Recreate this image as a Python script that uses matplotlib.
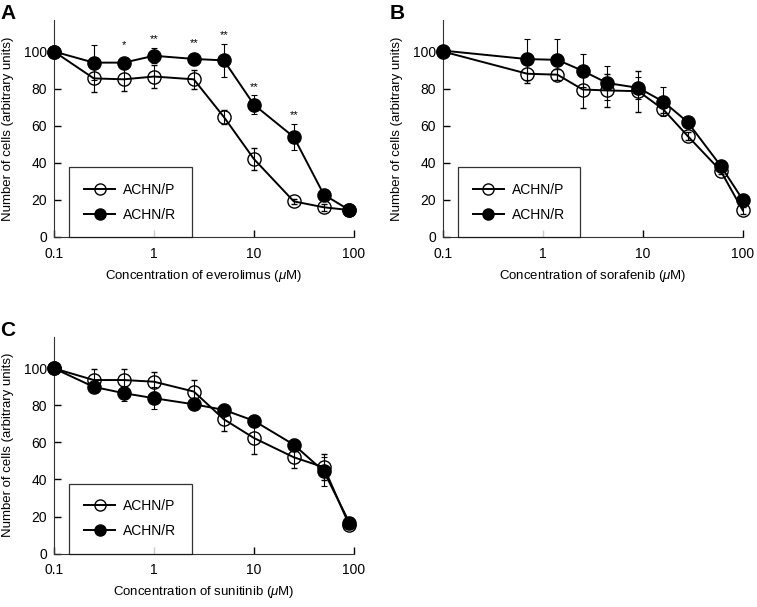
import matplotlib
matplotlib.use("Agg")
import matplotlib.pyplot as plt
import matplotlib.ticker as ticker
from matplotlib.lines import Line2D

plt.rcParams['font.family'] = ['Liberation Sans', 'DejaVu Sans']
plt.rcParams['mathtext.fontset'] = 'custom'
plt.rcParams['mathtext.it'] = 'Liberation Sans:italic'

# concentrations (uM)
conc_A = [0.1, 0.25, 0.5, 1, 2.5, 5, 10, 25, 50, 90]
conc_B = [0.1, 0.7, 1.4, 2.5, 4.4, 9, 16, 28, 60, 100]
conc_C = [0.1, 0.25, 0.5, 1, 2.5, 5, 10, 25, 50, 90]

# A - everolimus
p_A = [100, 85.5, 85, 86.5, 85, 64.7, 42, 19.2, 16, 14.5]
p_A_err = [0, 7.6, 6.5, 6, 5, 4, 6, 1.5, 2, 1]
r_A = [100, 94, 94, 97.7, 96, 95.2, 71.3, 53.9, 22.8, 14.5]
r_A_err = [0, 9.6, 2, 4, 2, 9, 5, 7, 2, 1]
star_x = [0.5, 1, 2.5, 5, 10, 25]
star_txt = ['*', '**', '**', '**', '**', '**']
star_y = [101, 104, 102, 106, 78, 63]

# B - sorafenib
p_B = [100, 88, 87.5, 79.5, 79, 78.6, 68.8, 54.5, 35.7, 14.3]
p_B_err = [0, 5, 3, 10, 9, 11, 2, 2, 2, 2]
r_B = [100.5, 95.9, 95.5, 89.6, 83, 80.4, 73, 62, 38.4, 20]
r_B_err = [0, 11, 11, 9, 9, 6, 8, 2, 2, 2]

# C - sunitinib
p_C = [100, 93.7, 93.7, 92.8, 87.5, 72.5, 62.4, 52, 46.6, 15.2]
p_C_err = [0, 6, 6, 5.4, 6.4, 6.5, 8.6, 6, 7, 1]
r_C = [100, 90, 86.6, 83.9, 80.6, 77.6, 71.7, 58.8, 44.4, 16.7]
r_C_err = [0, 2, 4, 6, 2, 2, 2, 3, 8, 1]

drugs = ['everolimus', 'sorafenib', 'sunitinib']

fig = plt.figure(figsize=(7.57, 6.07), dpi=100)

def panel(rect, conc, p, pe, r, re, drug, letter):
    ax = fig.add_axes(rect)
    ax.errorbar(conc, p, yerr=pe, color='black', lw=1.4, marker='o', ms=9.5,
                mfc='none', mec='black', mew=1.0, elinewidth=0.8, capsize=2.5,
                capthick=0.8, clip_on=False, zorder=3)
    ax.errorbar(conc, r, yerr=re, color='black', lw=1.4, marker='o', ms=9.5,
                mfc='black', mec='black', elinewidth=0.8, capsize=2.5,
                capthick=0.8, clip_on=False, zorder=4)
    ax.set_xscale('log')
    ax.set_xlim(0.1, 100)
    ax.set_ylim(0, 117)
    ax.set_yticks([0, 20, 40, 60, 80, 100])
    ax.xaxis.set_major_formatter(ticker.FuncFormatter(lambda v, pos: '%g' % v))
    ax.xaxis.set_minor_locator(ticker.NullLocator())
    ax.tick_params(direction='in', length=5, width=1, labelsize=10)
    ax.tick_params(axis='x', pad=7)
    ax.tick_params(axis='y', pad=5)
    ax.spines['top'].set_visible(False)
    ax.spines['right'].set_visible(False)
    ax.spines['left'].set_color('#333333')
    ax.spines['bottom'].set_color('#333333')
    ax.set_xlabel('Concentration of %s ($\\mathit{\\mu}$M)' % drug, fontsize=9.5, labelpad=5)
    ax.set_ylabel('Number of cells (arbitrary units)', fontsize=9.5, labelpad=7)
    handles = [Line2D([], [], color='black', lw=1.4, marker='o', ms=8, mfc='none', mec='black'),
               Line2D([], [], color='black', lw=1.4, marker='o', ms=8, mfc='black', mec='black')]
    leg = ax.legend(handles, ['ACHN/P', 'ACHN/R'], loc='lower left',
                    bbox_to_anchor=(0.05, 0.0), borderaxespad=0, fancybox=False,
                    edgecolor='black', fontsize=10, handlelength=2.2,
                    borderpad=1.1, labelspacing=0.8, handletextpad=0.6)
    leg.get_frame().set_linewidth(0.9)
    ax.text(-0.178, 1.075, letter, transform=ax.transAxes, fontsize=15,
            fontweight='bold', va='top', ha='left')
    return ax

axA = panel([0.0713, 0.6096, 0.3963, 0.3575], conc_A, p_A, p_A_err, r_A, r_A_err, drugs[0], 'A')
for x, t, y in zip(star_x, star_txt, star_y):
    axA.text(x, y, t, ha='center', va='bottom', fontsize=8)
panel([0.585, 0.6096, 0.3963, 0.3575], conc_B, p_B, p_B_err, r_B, r_B_err, drugs[1], 'B')
panel([0.0713, 0.088, 0.3963, 0.357], conc_C, p_C, p_C_err, r_C, r_C_err, drugs[2], 'C')

plt.savefig('out.png', dpi=100)
